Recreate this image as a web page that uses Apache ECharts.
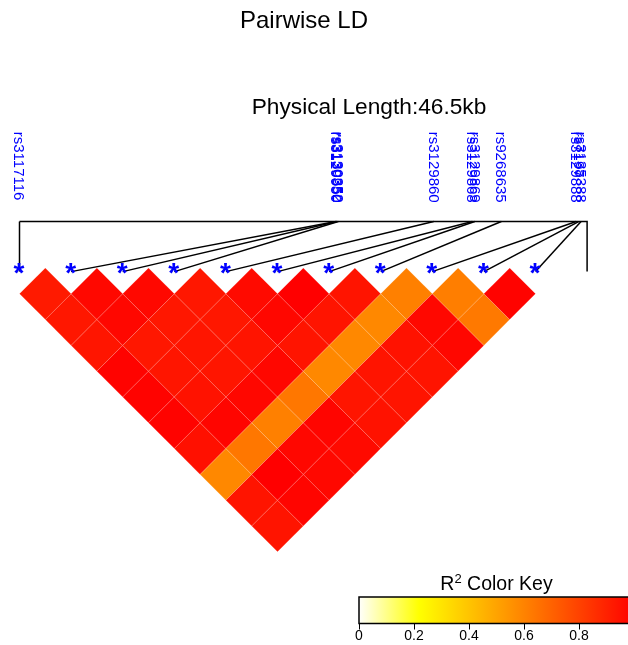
<!DOCTYPE html>
<html>
<head>
<meta charset="utf-8">
<script src="https://cdn.jsdelivr.net/npm/echarts@6/dist/echarts.min.js"></script>
<style>
html,body{margin:0;padding:0;background:#ffffff;}
#chart{width:628px;height:645px;}
</style>
</head>
<body>
<div id="chart"></div>
<script>
// ---------------- data ----------------
const chartTitle = 'Pairwise LD';
const snpNames = [
  'rs3117116', 'rs3129950', 'rs3130350', 'rs3130352', 'rs3129860',
  'rs3129868', 'rs3129869', 'rs9268635', 'rs3129888', 'rs7197', 'rs3135388'
];
// physical positions (kb, relative to first SNP)
const snpPosKb = [0, 26.2, 26.3, 26.4, 34.3, 37.5, 37.7, 39.9, 46.1, 46.3, 46.5];
// pairwise R^2, row i holds values for SNP pairs (i, i+1), (i, i+2), ...
const r2Row0 = [0.92, 0.93, 0.935, 0.99, 0.99, 0.99, 0.95, 0.585, 0.94, 0.94];
const r2Row1 = [0.975, 0.98, 0.93, 0.935, 0.945, 0.985, 0.635, 1.0, 0.985];
const r2Row2 = [0.975, 0.93, 0.935, 0.935, 0.98, 0.61, 0.98, 0.975];
const r2Row3 = [0.93, 0.93, 0.94, 0.98, 0.635, 0.985, 0.97];
const r2Row4 = [0.97, 0.98, 0.94, 0.585, 0.935, 0.945];
const r2Row5 = [1.0, 0.94, 0.585, 0.94, 0.94];
const r2Row6 = [0.94, 0.585, 0.945, 0.94];
const r2Row7 = [0.61, 0.975, 0.98];
const r2Row8 = [0.615, 0.63];
const r2Row9 = [0.99];
const r2Rows = [r2Row0, r2Row1, r2Row2, r2Row3, r2Row4, r2Row5, r2Row6, r2Row7, r2Row8, r2Row9];
// colour key
const keyTicks = [0, 0.2, 0.4, 0.6, 0.8];
const keyStopValues = [0, 0.22, 1];
const keyStopColors = ['#FFFFFF', '#FFFF00', '#FF0000'];

// ---------------- helpers ----------------
const nSnp = snpNames.length;
const physLen = Math.max(...snpPosKb) - Math.min(...snpPosKb);
const MAP_AXIS_KB = 47;              // kb spanned by the full map line
const idxPerKb = nSnp / MAP_AXIS_KB;
const MAP_Y = 0.9;                   // map line height above diagonal (data units)
const LABEL_Y = 2.64;                // label start height
const DIAG_END = -0.07;

function hexToRgb(h){return [parseInt(h.slice(1,3),16),parseInt(h.slice(3,5),16),parseInt(h.slice(5,7),16)];}
function r2Color(v){
  for (let k = 1; k < keyStopValues.length; k++) {
    if (v <= keyStopValues[k]) {
      const t = (v - keyStopValues[k-1]) / (keyStopValues[k] - keyStopValues[k-1]);
      const a = hexToRgb(keyStopColors[k-1]), b = hexToRgb(keyStopColors[k]);
      const c = a.map((x, q) => Math.round(x + (b[q] - x) * t));
      return 'rgb(' + c.join(',') + ')';
    }
  }
  return keyStopColors[keyStopColors.length - 1];
}

const cellData = [];
r2Rows.forEach((row, i) => row.forEach((v, k) => cellData.push([i, i + k + 1, v])));
const snpData = snpPosKb.map((p, k) => [k, p]);

const FONT = '"Liberation Sans", Arial, Helvetica, sans-serif';

const option = {
  animation: false,
  backgroundColor: '#ffffff',
  grid: [
    { left: 19.5, top: 268, width: 567.6, height: 283.8, outerBoundsMode: 'none', containLabel: false },
    { left: 359, top: 597, width: 275, height: 26.5, outerBoundsMode: 'none', containLabel: false }
  ],
  xAxis: [
    { gridIndex: 0, type: 'value', min: 0, max: nSnp, show: false },
    { gridIndex: 1, type: 'value', min: 0, max: 1, interval: 0.2,
      axisLine: { show: false },
      axisTick: { show: true, length: 6, customValues: keyTicks, lineStyle: { color: '#000', width: 1 } },
      axisLabel: { show: true, customValues: keyTicks, color: '#000', fontSize: 14, margin: 6, fontFamily: FONT,
                   formatter: v => String(v) },
      splitLine: { show: false } }
  ],
  yAxis: [
    { gridIndex: 0, type: 'value', min: -(nSnp - 1) / 2 - 0.5, max: 0, show: false },
    { gridIndex: 1, type: 'value', min: 0, max: 1, show: false }
  ],
  graphic: [
    { type: 'text', x: 304, y: 21.5, style: { text: chartTitle, font: '24px ' + FONT, fill: '#000', align: 'center', verticalAlign: 'middle' } },
    { type: 'text', x: 369, y: 107.5, style: { text: 'Physical Length:' + physLen.toFixed(1) + 'kb', font: '22.7px ' + FONT, fill: '#000', align: 'center', verticalAlign: 'middle' } },
    { type: 'text', x: 496.5, y: 584, style: {
        text: '{a|R}{s|2}{a| Color Key}', align: 'center', verticalAlign: 'middle',
        rich: {
          a: { fontSize: 19.5, fontFamily: FONT, color: '#000', verticalAlign: 'bottom' },
          s: { fontSize: 13, fontFamily: FONT, color: '#000', verticalAlign: 'top', padding: [0, 0, 9, 0] }
        } } }
  ],
  series: [
    { // LD cells
      type: 'custom', xAxisIndex: 0, yAxisIndex: 0, data: cellData, clip: false, z: 2,
      renderItem: (params, api) => {
        const i = api.value(0), j = api.value(1), v = api.value(2);
        const cx = (i + j) / 2, cy = -(j - i) / 2;
        const pts = [[cx, cy + 0.5], [cx + 0.5, cy], [cx, cy - 0.5], [cx - 0.5, cy]].map(p => api.coord(p));
        return { type: 'polygon', shape: { points: pts },
                 style: { fill: r2Color(v), stroke: 'rgba(255,255,255,0.22)', lineWidth: 0.6 } };
      }
    },
    { // genetic map line
      type: 'custom', xAxisIndex: 0, yAxisIndex: 0, data: [[0, MAP_AXIS_KB]], clip: false, z: 3,
      renderItem: (params, api) => {
        const endIdx = api.value(1) * idxPerKb;
        const pts = [[api.value(0), MAP_Y], [endIdx, MAP_Y], [endIdx, DIAG_END]].map(p => api.coord(p));
        return { type: 'polyline', shape: { points: pts }, style: { stroke: '#000', lineWidth: 1.5, fill: null } };
      }
    },
    { // connectors, stars, labels
      type: 'custom', xAxisIndex: 0, yAxisIndex: 0, data: snpData, clip: false, z: 4,
      renderItem: (params, api) => {
        const k = api.value(0), mx = api.value(1) * idxPerKb;
        const d = api.coord([k, DIAG_END]);
        const m = api.coord([mx, MAP_Y]);
        const s = api.coord([k, 0]);
        const l = api.coord([mx, LABEL_Y]);
        return { type: 'group', children: [
          { type: 'line', shape: { x1: d[0], y1: d[1], x2: m[0], y2: m[1] }, style: { stroke: '#000', lineWidth: 1.5 } },
          { type: 'text', x: s[0] - 0.5, y: s[1] + 6, z2: 10,
            style: { text: '*', font: 'bold 28px ' + FONT, fill: '#0000FF', align: 'center', verticalAlign: 'middle' } },
          { type: 'text', x: l[0] - 1, y: l[1], rotation: -Math.PI / 2,
            style: { text: snpNames[params.dataIndex], font: '15px ' + FONT, fill: '#0000FF', align: 'left', verticalAlign: 'middle' } }
        ] };
      }
    },
    { // colour key bar
      type: 'custom', xAxisIndex: 1, yAxisIndex: 1, data: [[0, 1]], clip: false, z: 2,
      renderItem: (params, api) => {
        const a = api.coord([api.value(0), 0]);
        const b = api.coord([api.value(1), 1]);
        return { type: 'rect', shape: { x: a[0], y: b[1], width: b[0] - a[0], height: a[1] - b[1] },
          style: { stroke: '#000', lineWidth: 1.5,
            fill: { type: 'linear', x: 0, y: 0, x2: 1, y2: 0,
              colorStops: keyStopValues.map((o, q) => ({ offset: o, color: keyStopColors[q] })) } } };
      }
    }
  ]
};

const chart = echarts.init(document.getElementById('chart'), null, { renderer: 'canvas' });
chart.setOption(option);
</script>
</body>
</html>
